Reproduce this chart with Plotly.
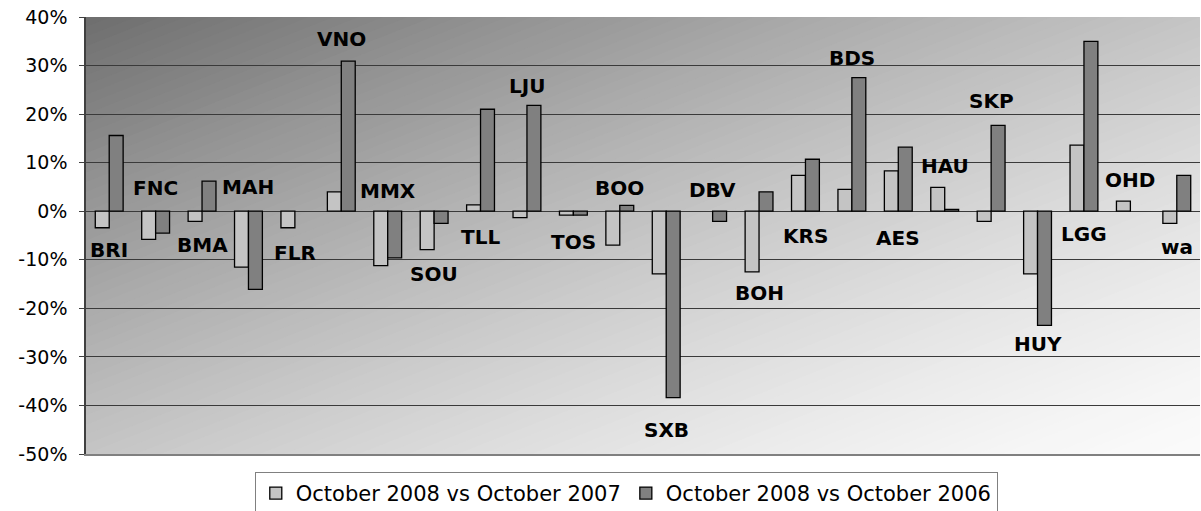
import plotly.graph_objects as go

categories = ["BRI", "FNC", "BMA", "MAH", "FLR", "VNO", "MMX", "SOU", "TLL", "LJU",
              "TOS", "BOO", "SXB", "DBV", "BOH", "KRS", "BDS", "AES", "HAU", "SKP",
              "HUY", "LGG", "OHD", "wa"]

vs_2007 = [-3.4, -5.8, -2.1, -11.5, -3.4, 4.0, -11.2, -7.9, 1.3, -1.3,
           -0.8, -7.0, -12.9, None, -12.5, 7.4, 4.5, 8.3, 4.9, -2.1,
           -12.9, 13.6, 2.1, -2.5]

vs_2006 = [15.6, -4.5, 6.2, -16.1, None, 30.9, -9.6, -2.5, 21.0, 21.8,
           -0.8, 1.2, -38.4, -2.1, 4.0, 10.7, 27.5, 13.2, 0.4, 17.7,
           -23.5, 35.0, None, 7.4]

# vertical placement of the category-name labels (percent units)
label_y = [-7.9, 4.8, -7.0, 5.0, -8.6, 35.4, 4.2, -12.9, -5.3, 25.7,
           -6.3, 4.7, -45.0, 4.3, -16.9, -5.2, 31.6, -5.6, 9.4, 22.6,
           -27.3, -4.6, 6.4, -7.4]

tick_vals = [-50, -40, -30, -20, -10, 0, 10, 20, 30, 40]
tick_text = [f"{v}%" for v in tick_vals]

series_names = ["October 2008 vs October 2007", "October 2008 vs October 2006"]

fig = go.Figure()
fig.add_trace(go.Bar(x=categories, y=vs_2007, name=series_names[0],
                     marker=dict(color="#c4c4c4", line=dict(color="#000000", width=1.3))))
fig.add_trace(go.Bar(x=categories, y=vs_2006, name=series_names[1],
                     marker=dict(color="#808080", line=dict(color="#000000", width=1.3))))

for cat, ly in zip(categories, label_y):
    fig.add_annotation(x=cat, y=ly, text=f"<b>{cat}</b>", showarrow=False,
                       font=dict(family="DejaVu Sans", size=20, color="#000000"),
                       xanchor="center", yanchor="middle")


# diagonal gradient background (style only)
def clip(poly, a, b, c):
    out = []
    n = len(poly)
    for i in range(n):
        p, q = poly[i], poly[(i + 1) % n]
        fp = a * p[0] + b * p[1] + c
        fq = a * q[0] + b * q[1] + c
        if fp >= 0:
            out.append(p)
        if (fp >= 0) != (fq >= 0):
            s = fp / (fp - fq)
            out.append((p[0] + s * (q[0] - p[0]), p[1] + s * (q[1] - p[1])))
    return out


shapes = []
N = 90
for i in range(N):
    t0 = i / N
    t1 = (i + 1) / N + (0.004 if i < N - 1 else 0.01)
    sq = [(0, 0), (1, 0), (1, 1), (0, 1)]
    poly = clip(sq, 0.5, -0.5, 0.5 - (t0 if i > 0 else -0.01))
    poly = clip(poly, -0.5, 0.5, t1 - 0.5)
    if len(poly) < 3:
        continue
    tm = (i + 0.5) / N
    g = int(round(250 - 140 * (1 - tm) ** 1.4))
    path = "M " + " L ".join(f"{u:.5f},{v:.5f}" for u, v in poly) + " Z"
    shapes.append(dict(type="path", path=path, xref="paper", yref="paper",
                       fillcolor=f"rgb({g},{g},{g})", line=dict(width=0), layer="below"))

fig.update_layout(
    shapes=shapes,
    width=1201, height=511,
    margin=dict(l=86, r=1, t=17, b=57, autoexpand=False),
    paper_bgcolor="#ffffff",
    plot_bgcolor="rgba(0,0,0,0)",
    barmode="group", bargap=0.4, bargroupgap=0,
    font=dict(family="DejaVu Sans", color="#000000"),
    showlegend=True,
    legend=dict(orientation="h", x=0.485, xanchor="center", y=-0.041, yanchor="top",
                bordercolor="#808080", borderwidth=1, bgcolor="#ffffff",
                font=dict(family="DejaVu Sans", size=21, color="#000000"),
                itemwidth=30, tracegroupgap=0),
    xaxis=dict(showticklabels=False, showgrid=False, zeroline=False,
               showline=True, linecolor="#808080", linewidth=2, mirror=False,
               ticks="", automargin=False),
    yaxis=dict(range=[-50, 40], tickvals=tick_vals, ticktext=tick_text,
               showgrid=True, gridcolor="#3a3a3a", gridwidth=1,
               zeroline=False, showline=True, linecolor="#404040", linewidth=1.5,
               ticks="outside", ticklen=5, tickcolor="#404040",
               tickfont=dict(family="DejaVu Sans", size=19, color="#000000"),
               ticklabelstandoff=8, automargin=False),
)

fig.write_html("out.html", config={"displayModeBar": False},
               post_script="document.body.style.margin='0';document.body.style.padding='0';")
